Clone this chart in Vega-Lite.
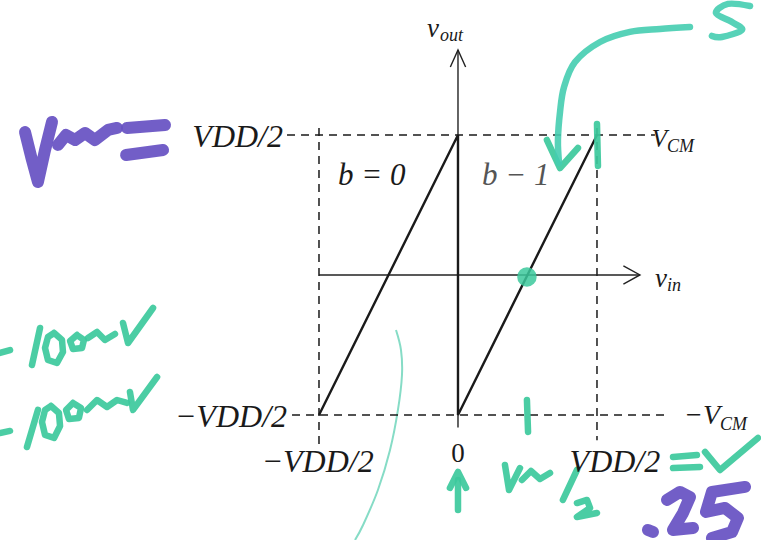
{
  "$schema": "https://vega.github.io/schema/vega-lite/v6.json",
  "width": 761,
  "height": 540,
  "autosize": {"type": "none"},
  "padding": 0,
  "background": "white",
  "config": {"view": {"stroke": null}},
  "datasets": {
    "guides": [
      {"s": "top", "o": 0, "x": -1.23, "y": 1}, {"s": "top", "o": 1, "x": 1.417, "y": 1},
      {"s": "bot", "o": 0, "x": -1.194, "y": -1}, {"s": "bot", "o": 1, "x": 1.511, "y": -1},
      {"s": "left", "o": 0, "x": -1, "y": 1.05}, {"s": "left", "o": 1, "x": -1, "y": -1.25},
      {"s": "right", "o": 0, "x": 1, "y": 1.05}, {"s": "right", "o": 1, "x": 1, "y": -1.18}
    ],
    "axes": [
      {"s": "xaxis", "o": 0, "x": -1, "y": 0}, {"s": "xaxis", "o": 1, "x": 1.309, "y": 0},
      {"s": "xarrow", "o": 0, "x": 1.19, "y": 0.065}, {"s": "xarrow", "o": 1, "x": 1.309, "y": 0}, {"s": "xarrow", "o": 2, "x": 1.19, "y": -0.065},
      {"s": "yaxis", "o": 0, "x": 0, "y": 1}, {"s": "yaxis", "o": 1, "x": 0, "y": 1.607},
      {"s": "yarrow", "o": 0, "x": -0.055, "y": 1.485}, {"s": "yarrow", "o": 1, "x": 0, "y": 1.607}, {"s": "yarrow", "o": 2, "x": 0.055, "y": 1.485},
      {"s": "ytick", "o": 0, "x": 0, "y": -1}, {"s": "ytick", "o": 1, "x": 0, "y": -1.09}
    ],
    "saw": [
      {"o": 0, "x": -1, "y": -1},
      {"o": 1, "x": 0, "y": 1},
      {"o": 2, "x": 0, "y": -1},
      {"o": 3, "x": 1, "y": 1}
    ],
    "purple": [
      {"s": "p1", "o": 0, "x": -3.115, "y": 1.021}, {"s": "p1", "o": 1, "x": -3.065, "y": 0.821}, {"s": "p1", "o": 2, "x": -3.022, "y": 0.664}, {"s": "p1", "o": 3, "x": -2.971, "y": 0.893}, {"s": "p1", "o": 4, "x": -2.921, "y": 1.093},
      {"s": "p2", "o": 0, "x": -2.878, "y": 0.929}, {"s": "p2", "o": 1, "x": -2.82, "y": 1.0}, {"s": "p2", "o": 2, "x": -2.755, "y": 0.964}, {"s": "p2", "o": 3, "x": -2.683, "y": 1.014}, {"s": "p2", "o": 4, "x": -2.612, "y": 0.964}, {"s": "p2", "o": 5, "x": -2.518, "y": 1.036}, {"s": "p2", "o": 6, "x": -2.453, "y": 1.05},
      {"s": "p3", "o": 0, "x": -2.381, "y": 1.05}, {"s": "p3", "o": 1, "x": -2.108, "y": 1.071},
      {"s": "p4", "o": 0, "x": -2.388, "y": 0.857}, {"s": "p4", "o": 1, "x": -2.122, "y": 0.893},
      {"s": "p5", "o": 0, "x": 1.367, "y": -1.821}, {"s": "p5", "o": 1, "x": 1.403, "y": -1.836},
      {"s": "p6", "o": 0, "x": 1.504, "y": -1.607}, {"s": "p6", "o": 1, "x": 1.597, "y": -1.55}, {"s": "p6", "o": 2, "x": 1.669, "y": -1.586}, {"s": "p6", "o": 3, "x": 1.619, "y": -1.7}, {"s": "p6", "o": 4, "x": 1.547, "y": -1.821}, {"s": "p6", "o": 5, "x": 1.691, "y": -1.807},
      {"s": "p7", "o": 0, "x": 2.065, "y": -1.514}, {"s": "p7", "o": 1, "x": 1.827, "y": -1.55}, {"s": "p7", "o": 2, "x": 1.784, "y": -1.693}, {"s": "p7", "o": 3, "x": 1.921, "y": -1.664}, {"s": "p7", "o": 4, "x": 2.014, "y": -1.736}, {"s": "p7", "o": 5, "x": 1.971, "y": -1.836}, {"s": "p7", "o": 6, "x": 1.827, "y": -1.879}
    ],
    "green": [
      {"s": "g1", "o": 0, "x": -3.295, "y": -0.557}, {"s": "g1", "o": 1, "x": -3.223, "y": -0.536},
      {"s": "g2", "o": 0, "x": -3.007, "y": -0.379}, {"s": "g2", "o": 1, "x": -3.065, "y": -0.643},
      {"s": "g3", "o": 0, "x": -2.906, "y": -0.414}, {"s": "g3", "o": 1, "x": -2.849, "y": -0.464}, {"s": "g3", "o": 2, "x": -2.842, "y": -0.55}, {"s": "g3", "o": 3, "x": -2.885, "y": -0.629}, {"s": "g3", "o": 4, "x": -2.95, "y": -0.607}, {"s": "g3", "o": 5, "x": -2.971, "y": -0.521}, {"s": "g3", "o": 6, "x": -2.95, "y": -0.443}, {"s": "g3", "o": 7, "x": -2.906, "y": -0.414},
      {"s": "g4", "o": 0, "x": -2.741, "y": -0.429}, {"s": "g4", "o": 1, "x": -2.691, "y": -0.464}, {"s": "g4", "o": 2, "x": -2.705, "y": -0.521}, {"s": "g4", "o": 3, "x": -2.77, "y": -0.529}, {"s": "g4", "o": 4, "x": -2.791, "y": -0.471}, {"s": "g4", "o": 5, "x": -2.741, "y": -0.429},
      {"s": "g5", "o": 0, "x": -2.662, "y": -0.45}, {"s": "g5", "o": 1, "x": -2.597, "y": -0.407}, {"s": "g5", "o": 2, "x": -2.54, "y": -0.464}, {"s": "g5", "o": 3, "x": -2.468, "y": -0.421},
      {"s": "g6", "o": 0, "x": -2.41, "y": -0.343}, {"s": "g6", "o": 1, "x": -2.374, "y": -0.486}, {"s": "g6", "o": 2, "x": -2.194, "y": -0.236},
      {"s": "g7", "o": 0, "x": -3.295, "y": -1.129}, {"s": "g7", "o": 1, "x": -3.223, "y": -1.114},
      {"s": "g8", "o": 0, "x": -3.022, "y": -0.964}, {"s": "g8", "o": 1, "x": -3.101, "y": -1.229},
      {"s": "g9", "o": 0, "x": -2.928, "y": -0.936}, {"s": "g9", "o": 1, "x": -2.871, "y": -0.986}, {"s": "g9", "o": 2, "x": -2.863, "y": -1.079}, {"s": "g9", "o": 3, "x": -2.906, "y": -1.164}, {"s": "g9", "o": 4, "x": -2.971, "y": -1.143}, {"s": "g9", "o": 5, "x": -2.993, "y": -1.05}, {"s": "g9", "o": 6, "x": -2.971, "y": -0.964}, {"s": "g9", "o": 7, "x": -2.928, "y": -0.936},
      {"s": "g10", "o": 0, "x": -2.77, "y": -0.914}, {"s": "g10", "o": 1, "x": -2.712, "y": -0.95}, {"s": "g10", "o": 2, "x": -2.727, "y": -1.021}, {"s": "g10", "o": 3, "x": -2.799, "y": -1.029}, {"s": "g10", "o": 4, "x": -2.82, "y": -0.964}, {"s": "g10", "o": 5, "x": -2.77, "y": -0.914},
      {"s": "g11", "o": 0, "x": -2.669, "y": -0.964}, {"s": "g11", "o": 1, "x": -2.597, "y": -0.893}, {"s": "g11", "o": 2, "x": -2.525, "y": -0.943}, {"s": "g11", "o": 3, "x": -2.453, "y": -0.893}, {"s": "g11", "o": 4, "x": -2.381, "y": -0.914},
      {"s": "g12", "o": 0, "x": -2.36, "y": -0.836}, {"s": "g12", "o": 1, "x": -2.338, "y": -0.964}, {"s": "g12", "o": 2, "x": -2.165, "y": -0.729},
      {"s": "g13", "o": 0, "x": 1.547, "y": -1.3}, {"s": "g13", "o": 1, "x": 1.719, "y": -1.286},
      {"s": "g14", "o": 0, "x": 1.547, "y": -1.379}, {"s": "g14", "o": 1, "x": 1.741, "y": -1.371},
      {"s": "g15", "o": 0, "x": 1.777, "y": -1.264}, {"s": "g15", "o": 1, "x": 1.885, "y": -1.393}, {"s": "g15", "o": 2, "x": 2.158, "y": -1.164},
      {"s": "g16", "o": 0, "x": 0.338, "y": -1.357}, {"s": "g16", "o": 1, "x": 0.367, "y": -1.536}, {"s": "g16", "o": 2, "x": 0.446, "y": -1.379},
      {"s": "g17", "o": 0, "x": 0.46, "y": -1.464}, {"s": "g17", "o": 1, "x": 0.525, "y": -1.4}, {"s": "g17", "o": 2, "x": 0.59, "y": -1.457}, {"s": "g17", "o": 3, "x": 0.662, "y": -1.414},
      {"s": "g18", "o": 0, "x": 0.856, "y": -1.393}, {"s": "g18", "o": 1, "x": 0.755, "y": -1.607},
      {"s": "g19", "o": 0, "x": 0.856, "y": -1.629}, {"s": "g19", "o": 1, "x": 0.928, "y": -1.607}, {"s": "g19", "o": 2, "x": 0.95, "y": -1.664}, {"s": "g19", "o": 3, "x": 0.856, "y": -1.729}, {"s": "g19", "o": 4, "x": 1.0, "y": -1.7},
      {"s": "g20", "o": 0, "x": 0, "y": -1.679}, {"s": "g20", "o": 1, "x": 0, "y": -1.464},
      {"s": "g21", "o": 0, "x": -0.058, "y": -1.521}, {"s": "g21", "o": 1, "x": 0, "y": -1.407}, {"s": "g21", "o": 2, "x": 0.058, "y": -1.521},
      {"s": "g22", "o": 0, "x": 0.496, "y": -0.893}, {"s": "g22", "o": 1, "x": 0.504, "y": -1.121},
      {"s": "g23", "o": 0, "x": 1.0, "y": 1.079}, {"s": "g23", "o": 1, "x": 1.007, "y": 0.779},
      {"s": "g25", "o": 0, "x": 0.64, "y": 0.964}, {"s": "g25", "o": 1, "x": 0.734, "y": 0.764}, {"s": "g25", "o": 2, "x": 0.863, "y": 0.907}
    ],
    "greenCurves": [
      {"s": "g24", "o": 0, "x": 1.669, "y": 1.771}, {"s": "g24", "o": 1, "x": 1.453, "y": 1.757}, {"s": "g24", "o": 2, "x": 1.237, "y": 1.736}, {"s": "g24", "o": 3, "x": 1.022, "y": 1.664}, {"s": "g24", "o": 4, "x": 0.842, "y": 1.521}, {"s": "g24", "o": 5, "x": 0.763, "y": 1.343}, {"s": "g24", "o": 6, "x": 0.734, "y": 1.164}, {"s": "g24", "o": 7, "x": 0.719, "y": 0.964}, {"s": "g24", "o": 8, "x": 0.727, "y": 0.8},
      {"s": "g26", "o": 0, "x": 2.101, "y": 1.921}, {"s": "g26", "o": 1, "x": 1.942, "y": 1.936}, {"s": "g26", "o": 2, "x": 1.856, "y": 1.871}, {"s": "g26", "o": 3, "x": 1.971, "y": 1.807}, {"s": "g26", "o": 4, "x": 2.043, "y": 1.75}, {"s": "g26", "o": 5, "x": 1.899, "y": 1.7}, {"s": "g26", "o": 6, "x": 1.827, "y": 1.707}
    ],
    "thinCurve": [
      {"o": 0, "x": -0.446, "y": -0.393}, {"o": 1, "x": -0.41, "y": -0.536}, {"o": 2, "x": -0.403, "y": -0.714}, {"o": 3, "x": -0.432, "y": -0.964},
      {"o": 4, "x": -0.489, "y": -1.25}, {"o": 5, "x": -0.576, "y": -1.536}, {"o": 6, "x": -0.683, "y": -1.786}, {"o": 7, "x": -0.741, "y": -1.893}
    ]
  },
  "encoding": {
    "x": {"field": "x", "type": "quantitative", "scale": {"domain": [-3.295, 2.18], "nice": false, "zero": false}, "axis": null},
    "y": {"field": "y", "type": "quantitative", "scale": {"domain": [-1.893, 1.964], "nice": false, "zero": false}, "axis": null}
  },
  "layer": [
    {
      "data": {"name": "thinCurve"},
      "mark": {"type": "line", "interpolate": "cardinal", "color": "#86dcc6", "strokeWidth": 2},
      "encoding": {"order": {"field": "o"}}
    },
    {
      "data": {"name": "guides"},
      "mark": {"type": "line", "color": "#1a1a1a", "strokeWidth": 1.5, "strokeDash": [8, 6]},
      "encoding": {"detail": {"field": "s"}, "order": {"field": "o"}}
    },
    {
      "data": {"name": "axes"},
      "mark": {"type": "line", "color": "#222222", "strokeWidth": 1.4},
      "encoding": {"detail": {"field": "s"}, "order": {"field": "o"}}
    },
    {
      "data": {"name": "saw"},
      "mark": {"type": "line", "color": "#1a1a1a", "strokeWidth": 2.4, "strokeJoin": "miter"},
      "encoding": {"order": {"field": "o"}}
    },
    {
      "data": {"name": "purple"},
      "mark": {"type": "line", "color": "#6650c2", "strokeWidth": 12, "strokeCap": "round", "strokeJoin": "round", "opacity": 0.92},
      "encoding": {"detail": {"field": "s"}, "order": {"field": "o"}}
    },
    {
      "data": {"name": "green"},
      "mark": {"type": "line", "color": "#3cc99c", "strokeWidth": 6.5, "strokeCap": "round", "strokeJoin": "round", "opacity": 0.92},
      "encoding": {"detail": {"field": "s"}, "order": {"field": "o"}}
    },
    {
      "data": {"name": "greenCurves"},
      "mark": {"type": "line", "interpolate": "cardinal", "color": "#45cdb0", "strokeWidth": 6.5, "strokeCap": "round", "strokeJoin": "round", "opacity": 0.9},
      "encoding": {"detail": {"field": "s"}, "order": {"field": "o"}}
    },
    {
      "data": {"values": [{"x": 0.496, "y": -0.014}]},
      "mark": {"type": "point", "filled": true, "shape": "circle", "size": 380, "color": "#3cc99c", "opacity": 0.85}
    },
    {
      "data": {"values": [{"t": "VDD/2", "x": -1.259, "y": 0.914}, {"t": "−VDD/2", "x": -1.23, "y": -1.086}]},
      "mark": {"type": "text", "align": "right", "baseline": "alphabetic", "font": "Liberation Serif", "fontStyle": "italic", "fontSize": 32, "color": "#1a1a1a"},
      "encoding": {"text": {"field": "t"}}
    },
    {
      "data": {"values": [{"t": "−VDD/2", "x": -1.01, "y": -1.407}, {"t": "VDD/2", "x": 1.129, "y": -1.407}]},
      "mark": {"type": "text", "align": "center", "baseline": "alphabetic", "font": "Liberation Serif", "fontStyle": "italic", "fontSize": 32, "color": "#1a1a1a"},
      "encoding": {"text": {"field": "t"}}
    },
    {
      "data": {"values": [{"t": "0", "x": 0, "y": -1.336}]},
      "mark": {"type": "text", "align": "center", "baseline": "alphabetic", "font": "Liberation Serif", "fontSize": 27, "color": "#1a1a1a"},
      "encoding": {"text": {"field": "t"}}
    },
    {
      "data": {"values": [{"t": "b = 0", "x": -0.863, "y": 0.643}]},
      "mark": {"type": "text", "align": "left", "baseline": "alphabetic", "font": "Liberation Serif", "fontStyle": "italic", "fontSize": 31, "color": "#1a1a1a"},
      "encoding": {"text": {"field": "t"}}
    },
    {
      "data": {"values": [{"t": "b − 1", "x": 0.173, "y": 0.643}]},
      "mark": {"type": "text", "align": "left", "baseline": "alphabetic", "font": "Liberation Serif", "fontStyle": "italic", "fontSize": 31, "color": "#555555"},
      "encoding": {"text": {"field": "t"}}
    },
    {
      "data": {"values": [{"t": "V", "x": 1.504, "y": 0.914}]},
      "mark": {"type": "text", "align": "right", "baseline": "alphabetic", "font": "Liberation Serif", "fontStyle": "italic", "fontSize": 25, "color": "#1a1a1a"},
      "encoding": {"text": {"field": "t"}}
    },
    {
      "data": {"values": [{"t": "−V", "x": 1.885, "y": -1.064}]},
      "mark": {"type": "text", "align": "right", "baseline": "alphabetic", "font": "Liberation Serif", "fontStyle": "italic", "fontSize": 28, "color": "#1a1a1a"},
      "encoding": {"text": {"field": "t"}}
    },
    {
      "data": {"values": [{"t": "v", "x": -0.223, "y": 1.7}, {"t": "v", "x": 1.417, "y": -0.086}]},
      "mark": {"type": "text", "align": "left", "baseline": "alphabetic", "font": "Liberation Serif", "fontStyle": "italic", "fontSize": 27, "color": "#1a1a1a"},
      "encoding": {"text": {"field": "t"}}
    },
    {
      "data": {"values": [{"t": "CM", "x": 1.504, "y": 0.879}, {"t": "CM", "x": 1.885, "y": -1.107}, {"t": "out", "x": -0.129, "y": 1.671}, {"t": "in", "x": 1.504, "y": -0.114}]},
      "mark": {"type": "text", "align": "left", "baseline": "alphabetic", "font": "Liberation Serif", "fontStyle": "italic", "fontSize": 18, "color": "#1a1a1a"},
      "encoding": {"text": {"field": "t"}}
    }
  ]
}
